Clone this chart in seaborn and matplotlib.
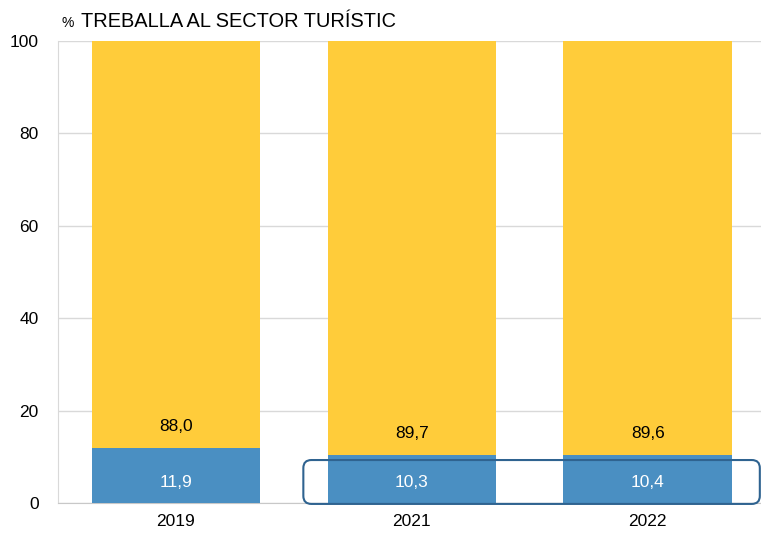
import numpy as np
import pandas as pd
import matplotlib
matplotlib.use('Agg')
import matplotlib.pyplot as plt
from matplotlib.patches import FancyBboxPatch
import seaborn as sns

# Data
years = ['2019', '2021', '2022']
share_turisme = [11.9, 10.3, 10.4]
share_resta = [88.0, 89.7, 89.6]

sns.set_style('white')
plt.rcParams['font.family'] = ['Liberation Sans', 'DejaVu Sans']
plt.rcParams['text.color'] = 'black'

blue = '#4A8FC2'
yellow = '#FFCC3A'

fig = plt.figure(figsize=(7.61, 5.33), dpi=100)
ax = fig.add_axes([58 / 761, 30 / 533, (761 - 58) / 761, (503 - 41) / 533])

df = pd.DataFrame({'year': years, 'turisme': share_turisme, 'resta': share_resta})
df['total'] = df['turisme'] + df['resta']

# stacked: draw total first, then bottom segment on top
sns.barplot(data=df, x='year', y='total', color=yellow, width=0.715,
            saturation=1, ax=ax, zorder=2, linewidth=0, edgecolor='none')
sns.barplot(data=df, x='year', y='turisme', color=blue, width=0.715,
            saturation=1, ax=ax, zorder=3, linewidth=0, edgecolor='none')

ax.set_ylim(0, 100)
ax.set_xlim(-0.5, 2.48)
ax.set_yticks(range(0, 101, 20))
ax.grid(axis='y', color='#d9d9d9', linewidth=1, zorder=0)
ax.set_axisbelow(True)
for s in ['top', 'right']:
    ax.spines[s].set_visible(False)
ax.spines['left'].set_color('#d9d9d9')
ax.spines['bottom'].set_color('#c8c8c8')
ax.tick_params(axis='both', length=0, labelsize=12.5, colors='black', pad=8)
ax.tick_params(axis='y', pad=14)
ax.set_xlabel('')
ax.set_ylabel('')

# value labels
for i, (b, t) in enumerate(zip(share_turisme, share_resta)):
    ax.text(i, 4.5, f'{b:.1f}'.replace('.', ','), ha='center', va='center',
            color='white', fontsize=12.5, zorder=5)
    ax.text(i, b + 4.7, f'{t:.1f}'.replace('.', ','), ha='center', va='center',
            color='black', fontsize=12.5, zorder=5)

# title
fig.text(62 / 761, 1 - 27 / 533, '%', fontsize=10, va='baseline', ha='left')
fig.text(81 / 761, 1 - 27 / 533, 'TREBALLA AL SECTOR TURÍSTIC', fontsize=14.4,
         va='baseline', ha='left')

# rounded highlight box around 2021-2022
fig.canvas.draw()
x0, y0 = ax.transData.transform((0.54, -0.2))
x1, y1 = ax.transData.transform((2.475, 9.3))
box = FancyBboxPatch((x0, y0), x1 - x0, y1 - y0,
                     boxstyle='round,pad=0,rounding_size=8',
                     transform=None, facecolor='none', edgecolor='#2F6390',
                     linewidth=1.5, zorder=6, clip_on=False)
fig.patches.append(box)

fig.savefig('out.png', dpi=100)
